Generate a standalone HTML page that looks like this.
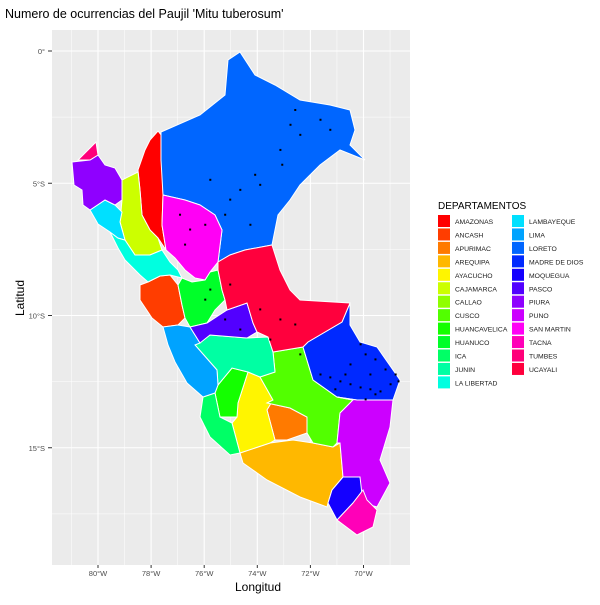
<!DOCTYPE html>
<html><head><meta charset="utf-8"><style>
body{margin:0;background:#fff;font-family:"Liberation Sans",sans-serif}
</style></head><body>
<svg id="c" width="600" height="600" xmlns="http://www.w3.org/2000/svg">
<rect width="600" height="600" fill="#fff"/>
<text x="5" y="18" font-size="12.5" fill="#000">Numero de ocurrencias del Paujil 'Mitu tuberosum'</text>
<rect x="52" y="30" width="358" height="535" fill="#ebebeb"/>
<g id="grid"></g><g id="map"></g><g id="pts"></g><g id="axes"></g><g id="legend"></g>
<text x="258" y="591" font-size="12" text-anchor="middle">Longitud</text>
<text transform="translate(24,298) rotate(-90)" font-size="12" text-anchor="middle">Latitud</text>
</svg>
<script>
const xTicks=[-80,-78,-76,-74,-72,-70];
const xTickLabels=["80°W","78°W","76°W","74°W","72°W","70°W"];
const yTicks=[0,-5,-10,-15];
const yTickLabels=["0°","5°S","10°S","15°S"];
const ptLon=[-72.75,-72.38,-73.13,-73.06,-73.89,-74.08,-74.64,-75.02,-75.21,-74.26,-75.77,-71.62,-71.25,-72.57,-76.91,-76.53,-76.72,-75.96,-75.96,-75.77,-75.02,-73.89,-73.13,-72.57,-75.21,-74.64,-73.51,-72.38,-71.62,-71.06,-71.25,-70.87,-70.49,-70.11,-69.74,-69.36,-68.98,-68.68,-68.79,-69.55,-69.92,-70.11,-69.92,-69.55,-70.49,-69.17,-70.68,-69.74];
const ptLat=[-2.79,-3.17,-3.74,-4.30,-5.06,-4.68,-5.25,-5.62,-6.19,-6.57,-4.87,-2.60,-2.98,-2.23,-6.19,-6.75,-7.32,-6.57,-9.40,-9.02,-8.83,-9.77,-10.15,-10.34,-10.15,-10.53,-10.91,-11.47,-12.23,-12.79,-12.34,-12.49,-12.60,-12.72,-12.79,-12.87,-12.60,-12.49,-12.23,-12.98,-13.17,-11.09,-11.47,-11.66,-11.85,-12.04,-12.23,-12.23];
const depts=["AMAZONAS","ANCASH","APURIMAC","AREQUIPA","AYACUCHO","CAJAMARCA","CALLAO","CUSCO","HUANCAVELICA","HUANUCO","ICA","JUNIN","LA LIBERTAD","LAMBAYEQUE","LIMA","LORETO","MADRE DE DIOS","MOQUEGUA","PASCO","PIURA","PUNO","SAN MARTIN","TACNA","TUMBES","UCAYALI"];
const xS=lon=>98+(lon+80)*26.55;
const yS=lat=>51-lat*26.45;
const col=i=>`hsl(${i*360/25},100%,50%)`;
const shapes={
"LORETO":[[161,132],[200,115],[225,95],[228,60],[240,52],[255,75],[275,85],[300,100],[330,105],[350,110],[355,130],[350,145],[365,160],[340,150],[320,165],[300,185],[290,200],[278,215],[272,245],[245,250],[230,255],[218,262],[222,230],[215,215],[200,205],[185,200],[163,195],[161,160]],
"SAN MARTIN":[[163,195],[185,200],[200,205],[215,215],[222,230],[218,262],[210,272],[205,280],[195,278],[185,270],[175,258],[166,250],[162,225]],
"AMAZONAS":[[158,131],[165,140],[162,160],[163,195],[162,225],[166,250],[158,238],[150,230],[142,215],[140,190],[138,170],[145,150],[150,140]],
"CAJAMARCA":[[122,180],[138,172],[140,190],[142,215],[150,230],[158,238],[162,250],[150,255],[135,255],[125,240],[120,222],[122,200]],
"TUMBES":[[78,160],[88,150],[96,142],[98,155],[90,160]],
"PIURA":[[72,162],[90,160],[98,155],[105,165],[115,168],[122,180],[122,200],[115,205],[105,200],[90,210],[83,205],[82,190],[74,185]],
"LAMBAYEQUE":[[90,210],[105,200],[115,205],[122,212],[120,222],[125,240],[118,238],[110,232],[98,224]],
"LA LIBERTAD":[[110,232],[118,238],[125,240],[135,255],[150,255],[162,250],[170,262],[178,270],[182,278],[170,275],[160,276],[148,282],[140,275],[125,260],[118,248]],
"ANCASH":[[140,285],[148,282],[160,276],[170,275],[178,285],[182,305],[185,318],[178,325],[163,327],[152,318],[140,300]],
"HUANUCO":[[178,285],[182,278],[192,282],[205,280],[210,272],[218,270],[222,290],[225,300],[215,310],[207,323],[190,327],[185,318],[182,305]],
"UCAYALI":[[218,262],[230,255],[245,250],[272,245],[280,270],[290,290],[300,300],[350,303],[342,322],[308,342],[303,347],[273,352],[268,337],[257,332],[253,323],[247,303],[227,310],[225,300],[222,290],[218,270]],
"PASCO":[[190,327],[207,323],[227,310],[247,303],[253,323],[257,332],[247,338],[210,335],[200,343]],
"JUNIN":[[195,345],[210,335],[247,338],[268,337],[273,352],[275,372],[260,377],[248,372],[232,368],[218,385],[217,370]],
"LIMA":[[163,327],[178,325],[190,327],[200,343],[195,345],[217,370],[218,385],[215,393],[203,397],[187,383],[175,362],[168,345]],
"CALLAO":[[176,345],[180,344],[181,348],[177,349]],
"HUANCAVELICA":[[232,368],[248,372],[238,403],[237,417],[220,417],[215,393],[218,385]],
"ICA":[[203,397],[215,393],[220,417],[232,423],[240,453],[230,455],[210,437],[200,417]],
"AYACUCHO":[[248,372],[260,377],[273,400],[267,410],[275,440],[270,443],[240,453],[232,423],[237,417],[238,403]],
"APURIMAC":[[267,403],[290,408],[307,417],[307,433],[287,440],[275,440],[267,410]],
"CUSCO":[[273,352],[303,347],[313,380],[337,397],[353,400],[340,413],[337,443],[333,447],[313,443],[307,433],[307,417],[290,408],[267,403],[273,400],[260,377],[275,372]],
"MADRE DE DIOS":[[308,342],[342,322],[350,303],[350,325],[360,342],[377,347],[400,380],[393,400],[357,400],[337,397],[313,380],[303,347]],
"PUNO":[[337,397],[357,400],[393,400],[390,427],[380,460],[390,483],[377,507],[363,503],[360,477],[343,477],[340,443],[337,443],[340,413],[353,400]],
"AREQUIPA":[[240,453],[270,443],[293,440],[313,443],[333,447],[340,443],[343,477],[332,490],[328,503],[327,507],[300,497],[267,480],[243,463]],
"MOQUEGUA":[[343,477],[360,477],[363,490],[353,503],[337,520],[328,503],[332,490]],
"TACNA":[[353,503],[363,490],[367,500],[377,510],[373,527],[357,535],[337,520]]
};
const NS="http://www.w3.org/2000/svg";
function mk(t,a,p){const e=document.createElementNS(NS,t);for(const k in a)e.setAttribute(k,a[k]);p.appendChild(e);return e;}
const grid=document.getElementById('grid');
xTicks.forEach((v,i)=>{
 const l=mk('line',{x1:xS(v),x2:xS(v),y1:30,y2:565,stroke:'#fff','stroke-width':1.1},grid);
 
 
 const m=mk('line',{x1:xS(v+1),x2:xS(v+1),y1:30,y2:565,stroke:'#fff','stroke-width':0.5},grid);
 
 
});
{const m=mk('line',{x1:xS(-81),x2:xS(-81),y1:30,y2:565,stroke:'#fff','stroke-width':0.5},grid);
 
 }
yTicks.forEach(v=>{
 const l=mk('line',{x1:52,x2:410,y1:yS(v),y2:yS(v),stroke:'#fff','stroke-width':1.1},grid);
 
 
 const m=mk('line',{x1:52,x2:410,y1:yS(v-2.5),y2:yS(v-2.5),stroke:'#fff','stroke-width':0.5},grid);
 
 
});
const map=document.getElementById('map');
depts.forEach((d,i)=>{const s=shapes[d];if(!s)return;
 const p=mk('polygon',{points:s.map(q=>q.join(',')).join(' '),fill:col(i),stroke:'#fff','stroke-width':1},map);
 
 
});
const pts=document.getElementById('pts');
ptLon.forEach((lo,i)=>{
 const r=mk('rect',{x:xS(lo)-1,y:yS(ptLat[i])-1,width:2,height:2,fill:'#000'},pts);
 
 
});
const ax=document.getElementById('axes');
xTicks.forEach((v,i)=>{
 mk('line',{x1:xS(v),x2:xS(v),y1:565,y2:568,stroke:'#333'},ax);
 const t=mk('text',{x:xS(v),y:576,'font-size':7.5,'text-anchor':'middle',fill:'#4d4d4d'},ax);t.textContent=xTickLabels[i];
 
 
});
yTicks.forEach((v,i)=>{
 mk('line',{x1:48,x2:52,y1:yS(v),y2:yS(v),stroke:'#333'},ax);
 const t=mk('text',{x:45,y:yS(v)+3,'font-size':7.5,'text-anchor':'end',fill:'#4d4d4d'},ax);t.textContent=yTickLabels[i];
 
 
});
const lg=document.getElementById('legend');
const tt=mk('text',{x:438,y:209,'font-size':10},lg);tt.textContent='DEPARTAMENTOS';


depts.forEach((d,i)=>{
 const c=i<13?0:1,r=i<13?i:i-13;
 const x=438+c*74,y=215+r*13.45;
 const g=mk('g',{},lg);
 
 
 mk('rect',{x:x,y:y,width:12,height:12,fill:col(i)},g);
 const t=mk('text',{x:x+17,y:y+9,'font-size':6.8,fill:'#1a1a1a'},g);t.textContent=d;
});
</script>
</body></html>
